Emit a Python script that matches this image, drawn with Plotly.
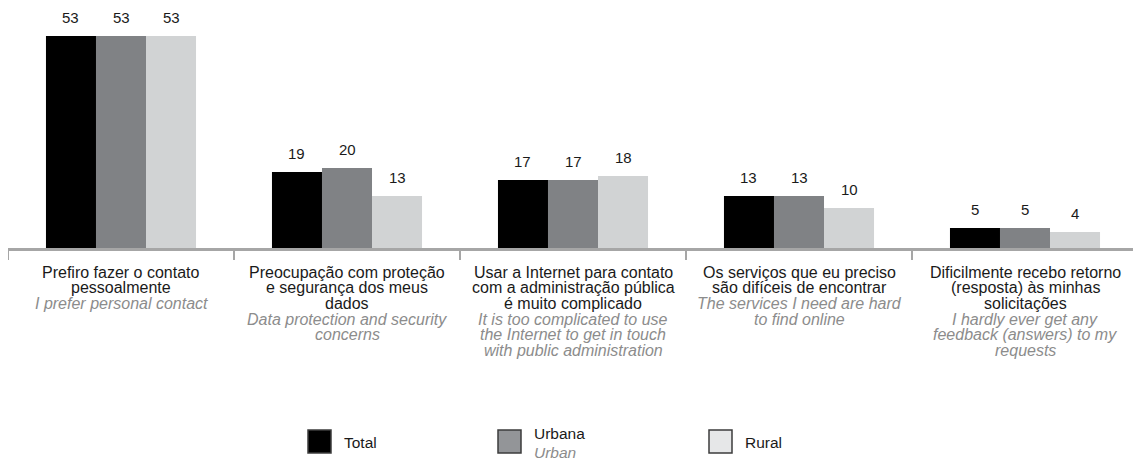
import plotly.graph_objects as go

# ---------------- data ----------------
categories = ["c1", "c2", "c3", "c4", "c5"]
labels_pt = [
    ["Prefiro fazer o contato", "pessoalmente"],
    ["Preocupação com proteção", "e segurança dos meus", "dados"],
    ["Usar a Internet para contato", "com a administração pública", "é muito complicado"],
    ["Os serviços que eu preciso", "são difíceis de encontrar"],
    ["Dificilmente recebo retorno", "(resposta) às minhas", "solicitações"],
]
labels_en = [
    ["I prefer personal contact"],
    ["Data protection and security", "concerns"],
    ["It is too complicated to use", "the Internet to get in touch", "with public administration"],
    ["The services I need are hard", "to find online"],
    ["I hardly ever get any", "feedback (answers) to my", "requests"],
]
series_names = ["Total", "Urbana", "Rural"]
series_names_en = ["", "Urban", ""]
total = [53, 19, 17, 13, 5]
urbana = [53, 20, 17, 13, 5]
rural = [53, 13, 18, 10, 4]
series_values = [total, urbana, rural]

# ---------------- style ----------------
bar_colors = ["#000000", "#808285", "#d1d3d4"]
legend_fills = ["#000000", "#939598", "#e6e7e8"]
FONT = "Liberation Sans, Arial, sans-serif"
OFF = 8  # page body margin
W, H = 1133, 454
ML, MR, MT, MB = 0, 3, 0, 214
PW = W - ML - MR
PH = H - MT - MB

fig = go.Figure()
for name, vals, col in zip(series_names, series_values, bar_colors):
    fig.add_trace(go.Bar(x=categories, y=vals, name=name, marker=dict(color=col, line=dict(width=0)),
                         showlegend=False))

annotations = []
# value labels above bars
bar_px = PW / len(categories) * (1 - 0.336) / len(series_values)
for j, vals in enumerate(series_values):
    for cat, v in zip(categories, vals):
        annotations.append(dict(x=cat, y=v, xref="x", yref="y", text=str(v), showarrow=False,
                                xshift=(j - 1) * bar_px, yshift=19, yanchor="middle",
                                font=dict(family=FONT, size=15, color="#1a1a1a")))

# category labels, line by line
line_h = 15.7
for cat, pt, en in zip(categories, labels_pt, labels_en):
    lines = [(t, False) for t in pt] + [(t, True) for t in en]
    for i, (t, it) in enumerate(lines):
        annotations.append(dict(x=cat, y=0, xref="x", yref="paper", showarrow=False,
                                text=f"<i>{t}</i>" if it else t, yanchor="middle",
                                yshift=-24 - i * line_h,
                                font=dict(family=FONT, size=16, color="#8c8c8c" if it else "#1a1a1a")))

# custom legend (page-pixel helpers)
def px_x(p):
    return (p - OFF - ML) / PW

def px_y(p):
    return (OFF + MT + PH - p) / PH

shapes = []
legend_box_x = [308, 498, 709]
for k, (name, en, fill) in enumerate(zip(series_names, series_names_en, legend_fills)):
    x0 = legend_box_x[k]
    shapes.append(dict(type="rect", xref="paper", yref="paper",
                       x0=px_x(x0), x1=px_x(x0 + 23), y0=px_y(453), y1=px_y(430),
                       fillcolor=fill, line=dict(color="#3c3c3c", width=1.5)))
    if en:
        annotations.append(dict(x=px_x(x0 + 34), y=px_y(433), xref="paper", yref="paper", text=name,
                                showarrow=False, xanchor="left", yanchor="middle",
                                font=dict(family=FONT, size=15.5, color="#1a1a1a")))
        annotations.append(dict(x=px_x(x0 + 34), y=px_y(453), xref="paper", yref="paper",
                                text=f"<i>{en}</i>", showarrow=False, xanchor="left", yanchor="middle",
                                font=dict(family=FONT, size=15.5, color="#8c8c8c")))
    else:
        annotations.append(dict(x=px_x(x0 + 34), y=px_y(442), xref="paper", yref="paper", text=name,
                                showarrow=False, xanchor="left", yanchor="middle",
                                font=dict(family=FONT, size=15.5, color="#1a1a1a")))

fig.update_layout(
    width=W, height=H, autosize=False,
    margin=dict(l=ML, r=MR, t=MT, b=MB),
    paper_bgcolor="white", plot_bgcolor="white",
    barmode="group", bargap=0.336, bargroupgap=0,
    showlegend=False,
    annotations=annotations, shapes=shapes,
    font=dict(family=FONT),
)
fig.update_xaxes(showline=True, linecolor="#a6a6a6", linewidth=2.5,
                 ticks="outside", tickson="boundaries", ticklen=9, tickwidth=2, tickcolor="#a6a6a6",
                 showticklabels=False, showgrid=False, zeroline=False)
fig.update_yaxes(range=[0, 60], visible=False, showgrid=False, zeroline=False)

fig.write_html("out.html")
